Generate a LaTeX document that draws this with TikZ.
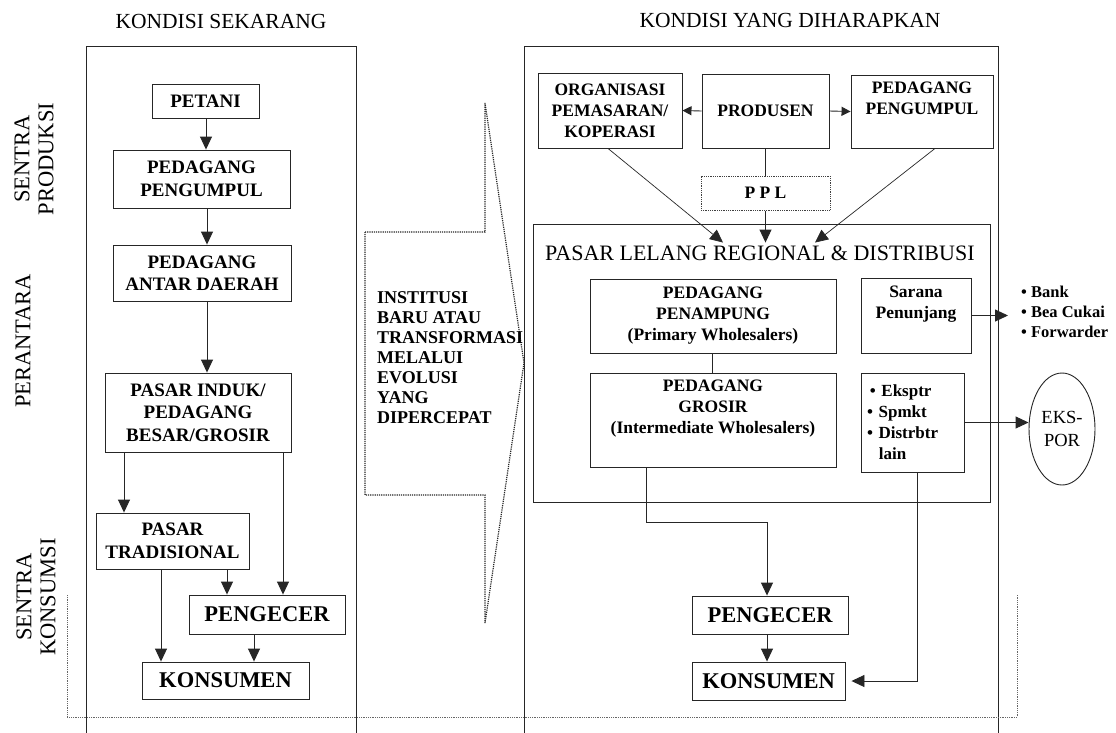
\documentclass[tikz,border=0pt]{standalone}
\usepackage{fontspec}
\setmainfont{Liberation Serif}
\usetikzlibrary{arrows.meta,shapes.geometric,calc}
\newcommand\fsz[2]{\fontsize{#1}{#2}\selectfont}
\begin{document}
\begin{tikzpicture}[x=1pt,y=-1pt,
  box/.style={draw=black!85, line width=0.9pt, inner sep=0pt, align=center},
  bb/.style={font=\bfseries\fsz{19}{22.5}},
  bs/.style={font=\bfseries\fsz{17.5}{21}},
  big/.style={font=\bfseries\fsz{22.5}{24}},
  lab/.style={font=\fsz{22.5}{24}, align=center, inner sep=0pt},
  arr/.style={draw=black!85, line width=0.9pt, -{Triangle[length=13pt,width=12pt]}},
  sarr/.style={draw=black!85, line width=0.9pt, -{Triangle[length=9pt,width=9pt]}},
  ln/.style={draw=black!85, line width=0.9pt},
  dotline/.style={draw=black!60, line width=0.8pt, densely dotted},
  shapeline/.style={draw=black!85, line width=1.2pt, densely dotted}]
\useasboundingbox (0,0) rectangle (1116,732);
\fill[white] (0,0) rectangle (1116,732);

% headings and side labels
\node[lab, font=\fsz{21.5}{24}] (h1) at (221,21) {KONDISI SEKARANG};
\node[lab, font=\fsz{21.5}{24}] (h2) at (790,20) {KONDISI YANG DIHARAPKAN};
\node[lab, rotate=90] (s1) at (34,159) {SENTRA\\PRODUKSI};
\node[lab, rotate=90] (s2) at (23,341) {PERANTARA};
\node[lab, rotate=90] (s3) at (36,597) {SENTRA\\KONSUMSI};

% frames
\draw[ln] (86,740) -- (86,46) -- (356,46) -- (356,740);
\draw[ln] (524,740) -- (524,46) -- (998,46) -- (998,740);

% dotted bracket
\draw[dotline] (67,595) -- (67,717) -- (1017,717) -- (1017,595);

% middle block arrow
\draw[shapeline] (365,232) -- (485,232) -- (485,103) -- (524,363) -- (485,623) -- (485,495) -- (365,495) -- cycle;
\node[anchor=west, align=left, inner sep=0pt, font=\bfseries\fsz{18}{20}] (inst) at (377,358)
  {INSTITUSI\\BARU ATAU\\TRANSFORMASI\\MELALUI\\EVOLUSI\\YANG\\DIPERCEPAT};

% left column
\node[box,bb,minimum width=107pt,minimum height=34pt] (petani) at (205.5,101) {PETANI};
\node[box,bb,minimum width=177pt,minimum height=58pt] (pp1) at (201.5,179) {PEDAGANG\\PENGUMPUL};
\node[box,bb,minimum width=178pt,minimum height=56pt] (pad) at (202,273) {PEDAGANG\\ANTAR DAERAH};
\node[box,bb,minimum width=186pt,minimum height=79pt] (pi) at (198,412.5) {PASAR INDUK/\\PEDAGANG\\BESAR/GROSIR};
\node[box,bb,minimum width=153pt,minimum height=56pt] (pt) at (172.5,541) {PASAR\\TRADISIONAL};
\node[box,big,minimum width=156pt,minimum height=39pt] (peng1) at (267,614.5) {PENGECER};
\node[box,big,minimum width=167pt,minimum height=37pt] (kons1) at (225.5,680.5) {KONSUMEN};

\draw[arr] ([xshift=0.5pt]petani.south) -- ([xshift=4.5pt]pp1.north);
\draw[arr] ([xshift=5.5pt]pp1.south) -- ([xshift=5pt]pad.north);
\draw[arr] ([xshift=5pt]pad.south) -- ([xshift=9pt]pi.north);
\draw[arr] ([xshift=-74pt]pi.south) -- ([xshift=-48.5pt]pt.north);
\draw[arr] ([xshift=85pt]pi.south) -- ([xshift=16pt]peng1.north);
\draw[arr] ([xshift=-11.5pt]pt.south) -- ([xshift=-64.5pt]kons1.north);
\draw[arr] ([xshift=54.5pt]pt.south) -- ([xshift=-40pt]peng1.north);
\draw[arr] ([xshift=-13pt]peng1.south) -- ([xshift=28.5pt]kons1.north);

% right column, top
\node[box,bs,minimum width=144pt,minimum height=75pt] (org) at (610,110.5) {ORGANISASI\\PEMASARAN/\\KOPERASI};
\node[box,bs,minimum width=127pt,minimum height=74pt] (prod) at (765.5,111) {PRODUSEN};
\node[box,bs,minimum width=142pt,minimum height=73pt] (pp2) at (922,111.5) {PEDAGANG\\PENGUMPUL\\\strut};
\node[box,bs,dotline,draw=black!75,line width=1pt,minimum width=129pt,minimum height=34pt] (ppl) at (765.5,193) {P P L};

\draw[sarr] (prod.west) -- (org.east);
\draw[sarr] (prod.east) -- (pp2.west);
\draw[ln] (prod.south) -- (ppl.north);

% pasar lelang box
\node[box,minimum width=457pt,minimum height=278pt] (lelang) at (761.5,363) {};
\node[anchor=west, inner sep=0pt, font=\fsz{22}{24}] (ltitle) at (545,253) {PASAR LELANG REGIONAL \& DISTRIBUSI};

\draw[arr] (ppl.south) -- ([xshift=4pt,yshift=-19pt]lelang.north);
\draw[arr, line width=0.7pt] ([xshift=-2pt]org.south) -- ([xshift=-38.5pt,yshift=-19pt]lelang.north);
\draw[arr, line width=0.7pt] ([xshift=13pt]pp2.south) -- ([xshift=53.5pt,yshift=-19pt]lelang.north);

\node[box,bs,minimum width=246pt,minimum height=74pt] (pen) at (713,316) {PEDAGANG\\PENAMPUNG\\(Primary Wholesalers)};
\node[box,bs,minimum width=246pt,minimum height=94pt] (gro) at (713,420) {PEDAGANG\\GROSIR\\(Intermediate Wholesalers)\\\strut};
\draw[ln] ([xshift=-1pt]pen.south) -- ([xshift=-1pt]gro.north);

\node[box,bs,minimum width=110pt,minimum height=75pt] (sar) at (916,315.5) {Sarana\\Penunjang\\\strut};
\node[box,font=\bfseries\fsz{17}{21},align=left,text width=91pt,inner xsep=6pt,inner ysep=0pt,minimum height=99pt] (eks) at (912.5,422.5)
  {\,• Eksptr\\• Spmkt\\• Distrbtr\\\hspace*{0.7em}lain};

\node[anchor=west, align=left, inner xsep=13pt, inner ysep=0pt, font=\bfseries\fsz{16.5}{20}] (bank) at (1008,312)
  {• Bank\\•\ Bea Cukai\\•\ Forwarder};
\draw[arr] (sar.east) -- (sar.east -| bank.west);

\node[draw=black!85, line width=0.9pt, ellipse, minimum width=66pt, minimum height=112pt, inner sep=0pt, align=center, font=\fsz{18.5}{23}] (ekspor) at (1062,429) {EKS-\\POR};
\draw[arr] (eks.east) -- (eks.east -| ekspor.west);

% right column, bottom
\node[box,big,minimum width=156pt,minimum height=38pt] (peng2) at (770,615) {PENGECER};
\node[box,big,minimum width=153pt,minimum height=38pt] (kons2) at (768.5,681) {KONSUMEN};

\draw[arr] ([xshift=-67pt]gro.south) -- ++(0,55) -| ([xshift=-3pt]peng2.north);
\draw[arr] ([xshift=-3pt]peng2.south) -- ([xshift=-1.5pt]kons2.north);
\draw[arr, shorten >=6pt] ([xshift=4.5pt]eks.south) |- (kons2.east);
\end{tikzpicture}
\end{document}
